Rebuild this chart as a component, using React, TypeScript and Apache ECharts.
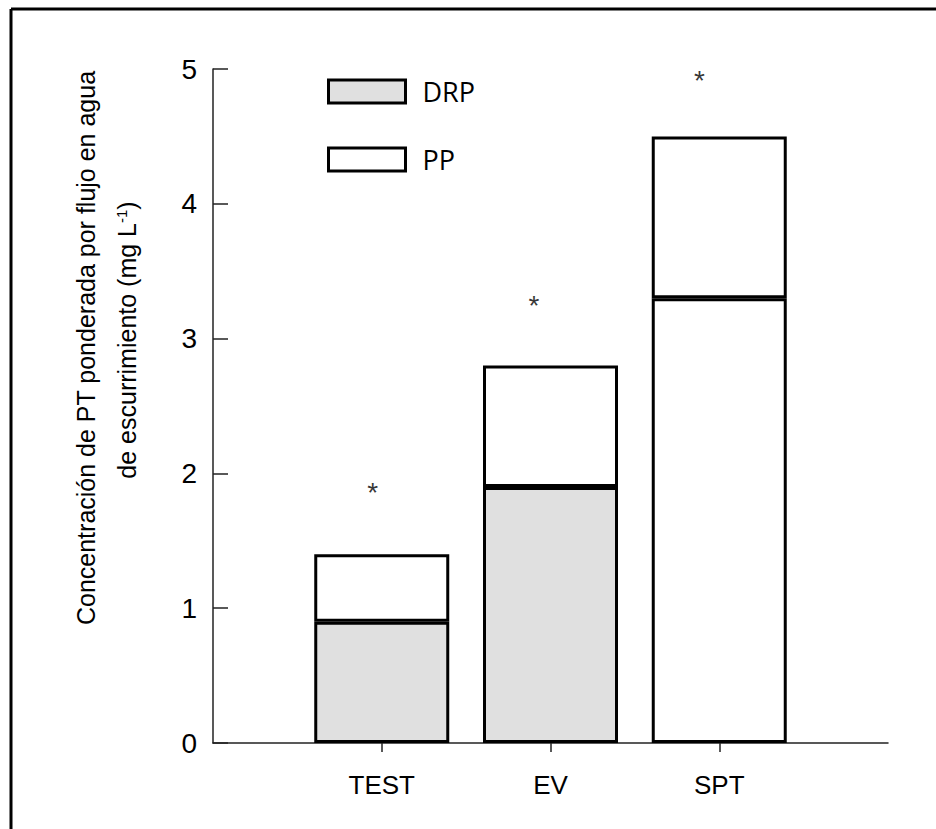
import React, { useEffect, useRef } from "react";
import * as echarts from "echarts";

const categories = ["TEST", "EV", "SPT"];
const drpValues = [0.9, 1.9, 3.3];
const ppValues = [0.5, 0.9, 1.2];
const drpColors = ["#e0e0e0", "#e0e0e0", "#ffffff"];
const asteriskX = [0.946, 1.902, 2.882];
const asteriskY = [1.88, 3.27, 4.935];

export default function App() {
  const ref = useRef<HTMLDivElement>(null);
  useEffect(() => {
    if (!ref.current) return;
    const chart = echarts.init(ref.current, undefined, { renderer: "svg" });
    const axisData = ["", ...categories, ""];
    const font = "'Liberation Sans', Arial, sans-serif";
    const option = {
      animation: false,
      backgroundColor: "#ffffff",
      grid: { left: 213, top: 69, right: 48, bottom: 86 },
      legend: {
        data: ["DRP", "PP"],
        orient: "vertical",
        left: 322,
        top: 73,
        itemWidth: 77,
        itemHeight: 23,
        itemGap: 41,
        icon: "rect",
        selectedMode: false,
        itemStyle: { borderColor: "#000", borderWidth: 3 },
        textStyle: {
          fontFamily: "'Open Sans', sans-serif",
          fontSize: 27,
          color: "#000",
          padding: [0, 0, 0, 12],
        },
      },
      xAxis: [
        {
          type: "category",
          data: axisData,
          boundaryGap: false,
          axisLine: { lineStyle: { color: "#222", width: 1.5 } },
          axisTick: {
            length: 9,
            interval: (i: number) => i >= 1 && i <= categories.length,
            lineStyle: { color: "#222", width: 1.5 },
          },
          axisLabel: {
            interval: 0,
            margin: 29,
            fontFamily: font,
            fontSize: 26,
            color: "#000",
          },
          splitLine: { show: false },
        },
        {
          type: "value",
          min: 0,
          max: 4,
          show: false,
        },
      ],
      yAxis: {
        type: "value",
        min: 0,
        max: 5,
        interval: 1,
        axisLine: { show: true, lineStyle: { color: "#222", width: 1.5 } },
        axisTick: { show: true, inside: true, length: 15, lineStyle: { color: "#222", width: 1.5 } },
        axisLabel: { margin: 16, fontFamily: font, fontSize: 28, color: "#000" },
        splitLine: { show: false },
      },
      series: [
        {
          name: "DRP",
          type: "bar",
          stack: "total",
          barWidth: 135,
          itemStyle: { color: "#e0e0e0", borderColor: "#000", borderWidth: 3 },
          data: [null, ...drpValues.map((v, i) => ({ value: v, itemStyle: { color: drpColors[i] } })), null],
        },
        {
          name: "PP",
          type: "bar",
          stack: "total",
          barWidth: 135,
          itemStyle: { color: "#ffffff", borderColor: "#000", borderWidth: 3 },
          data: [null, ...ppValues, null],
        },
        {
          name: "sig",
          type: "scatter",
          xAxisIndex: 1,
          symbolSize: 1,
          itemStyle: { color: "rgba(0,0,0,0)" },
          label: {
            show: true,
            position: "inside",
            formatter: "*",
            fontFamily: font,
            fontSize: 28,
            color: "#000",
            offset: [0, 3],
          },
          data: asteriskX.map((x, i) => [x, asteriskY[i]]),
        },
      ],
      graphic: [
        {
          type: "line",
          shape: { x1: 11, y1: 9, x2: 936, y2: 9 },
          style: { stroke: "#000", lineWidth: 3 },
        },
        {
          type: "line",
          shape: { x1: 11, y1: 9, x2: 11, y2: 829 },
          style: { stroke: "#000", lineWidth: 3 },
        },
        {
          type: "text",
          x: 86,
          y: 348,
          rotation: Math.PI / 2,
          style: {
            text: "Concentración de PT ponderada por flujo en agua",
            fontFamily: font,
            fontSize: 25,
            fill: "#000",
            align: "center",
            verticalAlign: "middle",
          },
        },
        {
          type: "text",
          x: 127,
          y: 340,
          rotation: Math.PI / 2,
          style: {
            text: "{a|de escurrimiento (mg L}{s|-1}{a|)}",
            fontFamily: font,
            fill: "#000",
            align: "center",
            verticalAlign: "middle",
            rich: {
              a: { fontFamily: font, fontSize: 25, fill: "#000" },
              s: { fontFamily: font, fontSize: 15, fill: "#000", verticalAlign: "top", padding: [0, 0, 12, 0] },
            },
          },
        },
      ],
    };
    chart.setOption(option as any);
    return () => chart.dispose();
  }, []);
  return (
    <div
      ref={ref}
      style={{ position: "fixed", left: 0, top: 0, width: 936, height: 829, background: "#fff" }}
    />
  );
}
